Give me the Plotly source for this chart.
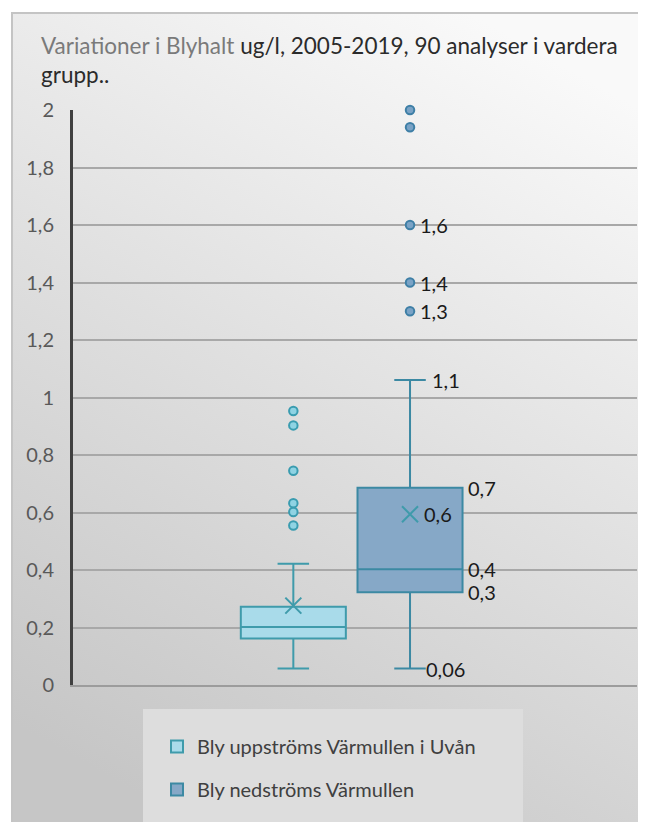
import base64
import plotly.graph_objects as go

# ---------------- data ----------------
categories = ["Bly uppströms Värmullen i Uvån", "Bly nedströms Värmullen"]

q1 = [0.162, 0.323]
median = [0.202, 0.403]
q3 = [0.272, 0.686]
lower_whisker = [0.057, 0.057]
upper_whisker = [0.422, 1.061]
means = [0.276, 0.594]

outliers_up = [0.953, 0.903, 0.745, 0.632, 0.602, 0.555]
outliers_down = [2.0, 1.94, 1.60, 1.40, 1.30]

# data labels shown on the downstream box
label_values = [1.60, 1.40, 1.30, 1.061, 0.686, 0.594, 0.403, 0.323, 0.057]
label_texts = ["1,6", "1,4", "1,3", "1,1", "0,7", "0,6", "0,4", "0,3", "0,06"]
label_shift = [8, 8, 8, 20, 56, 12, 56, 56, 14]

y_ticks = [0, 0.2, 0.4, 0.6, 0.8, 1.0, 1.2, 1.4, 1.6, 1.8, 2.0]

# ---------------- style ----------------
fills = ["#a9dbea", "#86a8c7"]
lines = ["#3f9bab", "#3c89a3"]
out_fill = ["#8fd3e3", "#7aa3c6"]
out_line = ["#3a9cb0", "#3e7fa6"]
FONT = "Lato"

fig = go.Figure()

for i, cat in enumerate(categories):
    fig.add_trace(go.Box(
        x=[cat], q1=[q1[i]], median=[median[i]], q3=[q3[i]],
        lowerfence=[lower_whisker[i]], upperfence=[upper_whisker[i]],
        name=cat, fillcolor=fills[i], line=dict(color=lines[i], width=2),
        whiskerwidth=0.3, width=0.9, boxpoints=False, hoverinfo="skip",
        legendgroup=f"g{i}",
    ))

for i, (cat, outs) in enumerate(zip(categories, [outliers_up, outliers_down])):
    fig.add_trace(go.Scatter(
        x=[cat] * len(outs), y=outs, mode="markers", showlegend=False,
        cliponaxis=False,
        marker=dict(symbol="circle", size=8.5, color=out_fill[i],
                    line=dict(color=out_line[i], width=2)),
        hoverinfo="skip",
    ))

fig.add_trace(go.Scatter(
    x=categories, y=means, mode="markers", showlegend=False,
    cliponaxis=False,
    marker=dict(symbol="x-thin", size=16, color=lines[0],
                line=dict(color=lines[0], width=2)),
    hoverinfo="skip",
))

annotations = []
for v, t, s in zip(label_values, label_texts, label_shift):
    annotations.append(dict(
        x=categories[1], y=v, xref="x", yref="y", text=t, showarrow=False,
        xanchor="left", yanchor="middle", xshift=s,
        font=dict(family=FONT, size=20, color="#1a1a1a"),
    ))

# page body has an 8px margin: work in figure coordinates = screen - 8
W, H = 638, 814
L, T = 65, 102
R = W - 629
B = H - 677
pw, ph = W - L - R, H - T - B


def px(xp):
    return (xp - L) / pw


def py(yp):
    return (H - B - yp) / ph


pan_w, pan_h = W - 3, H - 4
svg = (f'<svg xmlns="http://www.w3.org/2000/svg" width="{pan_w}" height="{pan_h}">'
       '<defs><linearGradient id="g" x1="0.72" y1="0" x2="0.28" y2="1">'
       '<stop offset="0" stop-color="#f9f9f9"/>'
       '<stop offset="0.5" stop-color="#dfdfdf"/>'
       '<stop offset="1" stop-color="#c6c6c6"/>'
       '</linearGradient></defs>'
       f'<rect x="0" y="0" width="{pan_w}" height="{pan_h}" fill="url(#g)"/>'
       f'<path d="M1,{pan_h} L1,1 L{pan_w},1" fill="none" stroke="#c4c4c4" stroke-width="2"/>'
       '</svg>')
src = "data:image/svg+xml;base64," + base64.b64encode(svg.encode()).decode()

fig.add_layout_image(dict(
    source=src, xref="paper", yref="paper",
    x=px(3), y=py(4), sizex=pan_w / pw, sizey=pan_h / ph,
    xanchor="left", yanchor="top", sizing="stretch", layer="below",
))

# white strips outside the panel (top and left)
fig.add_shape(type="rect", xref="paper", yref="paper",
              x0=px(0), x1=px(W), y0=py(4), y1=py(0),
              fillcolor="white", line=dict(width=0), layer="below")
fig.add_shape(type="rect", xref="paper", yref="paper",
              x0=px(0), x1=px(3), y0=py(H), y1=py(0),
              fillcolor="white", line=dict(width=0), layer="below")

# legend background box
fig.add_shape(type="rect", xref="paper", yref="paper",
              x0=px(135), x1=px(515), y0=py(818), y1=py(701),
              fillcolor="#dddddd", line=dict(width=0), layer="below")

fig.update_layout(
    width=W, height=H,
    margin=dict(l=L, r=R, t=T, b=B),
    paper_bgcolor="#d2d2d2", plot_bgcolor="rgba(0,0,0,0)",
    separators=", ",
    title=dict(
        text='<span style="color:#7a7a7a">Variationer i Blyhalt</span> ug/l, 2005-2019, 90 analyser i vardera<br>grupp..',
        x=33 / W, xref="container", xanchor="left",
        y=1 - 45.6 / H, yref="container", yanchor="top",
        font=dict(family=FONT, size=22.5, color="#2b2b2b"),
    ),
    showlegend=True,
    legend=dict(
        x=px(149), y=py(719), xanchor="left", yanchor="top",
        bgcolor="rgba(0,0,0,0)", borderwidth=0, tracegroupgap=14,
        font=dict(family=FONT, size=20, color="#404040"),
    ),
    xaxis=dict(
        type="category", categoryorder="array", categoryarray=categories,
        range=[-1.888, 2.945], showticklabels=False, showgrid=False,
        showline=True, linecolor="#9c9c9c", linewidth=2, zeroline=False,
        fixedrange=True,
    ),
    yaxis=dict(
        range=[0, 2], tickvals=y_ticks, showgrid=True, gridcolor="#a8a8a8",
        gridwidth=1.5, showline=True, linecolor="#404040", linewidth=3,
        zeroline=False, ticks="", ticklabelstandoff=12,
        tickfont=dict(family=FONT, size=20, color="#595959"),
    ),
    annotations=annotations,
    boxmode="overlay",
)

fig.write_html("out.html")
